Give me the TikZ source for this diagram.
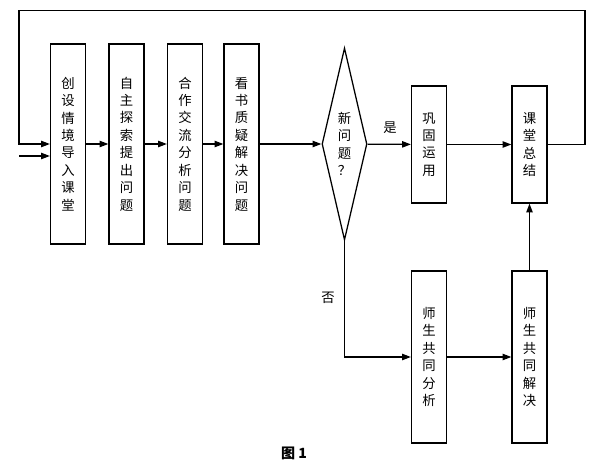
\documentclass[tikz,border=0pt]{standalone}
\usepackage{fontspec}
\newfontfamily\cjk{Noto Sans CJK SC}
\usetikzlibrary{shapes.geometric,arrows.meta}

\begin{document}
\begin{tikzpicture}[
    line join=miter,
    % pixel-like grid: 1 unit = 0.25mm, y runs downwards
    x=0.25mm, y=-0.25mm,
    font=\cjk\fontsize{9.5}{12.4}\selectfont
]

% ---------------------------------------------------------
% BOUNDING BOX (600 x 465)
% ---------------------------------------------------------
\path [use as bounding box] (0,0) rectangle (600,465);

\tikzset{stepbox/.style={draw, line width=0.9pt, minimum width=8.75mm, inner sep=0pt, align=center}}
\tikzset{flow/.style={line width=0.9pt, -{Triangle[length=2.2mm, width=1.6mm]}}}

% Main row of steps
\node[stepbox, minimum height=50mm] (intro)  at (68,144)    {创\\设\\情\\境\\导\\入\\课\\堂};
\node[stepbox, minimum height=50mm] (ask)    at (126.5,144) {自\\主\\探\\索\\提\\出\\问\\题};
\node[stepbox, minimum height=50mm] (coop)   at (185,144)   {合\\作\\交\\流\\分\\析\\问\\题};
\node[stepbox, minimum height=50mm] (read)   at (241.5,144) {看\\书\\质\\疑\\解\\决\\问\\题};

% Decision (narrow, tall diamond)
\node[draw, line width=0.9pt, diamond, aspect=0.234, minimum width=11.25mm, minimum height=48mm,
      inner sep=0pt, align=center] (newq) at (344.5,144) {新\\问\\题\\？};

% Right-hand steps
\node[stepbox, minimum height=29.25mm] (apply)   at (429,144.5)   {巩\\固\\运\\用};
\node[stepbox, minimum height=29.25mm] (summary) at (529.5,144.5) {课\\堂\\总\\结};
\node[stepbox, minimum height=43mm]    (analyse) at (429,357)     {师\\生\\共\\同\\分\\析};
\node[stepbox, minimum height=43mm]    (solve)   at (529.5,357)   {师\\生\\共\\同\\解\\决};

% Loop corners and second entry
\coordinate (loopR) at (585,10.7);
\coordinate (loopL) at (19,10.7);
\coordinate (entry) at (19,156);

% Connectors
\draw[flow] (summary.east) -| (loopR) -- (loopL) |- (intro.west);
\draw[flow] (entry) -- (entry -| intro.west);
\draw[flow] (intro) -- (ask);
\draw[flow] (ask) -- (coop);
\draw[flow] (coop) -- (read);
\draw[flow] (read) -- (newq);
\draw[flow] (newq) -- (apply);
\draw[flow] (apply) -- (summary);
\draw[flow] (newq.south) |- (analyse.west);
\draw[flow] (analyse) -- (solve);
\draw[flow] (solve) -- (summary);

% Labels
\node (yes) at (390,128) {是};
\node (no)  at (328,298) {否};
\node[font=\cjk\bfseries\fontsize{10}{12}\selectfont] (caption) at (294,453) {图 1};

\end{tikzpicture}
\end{document}
